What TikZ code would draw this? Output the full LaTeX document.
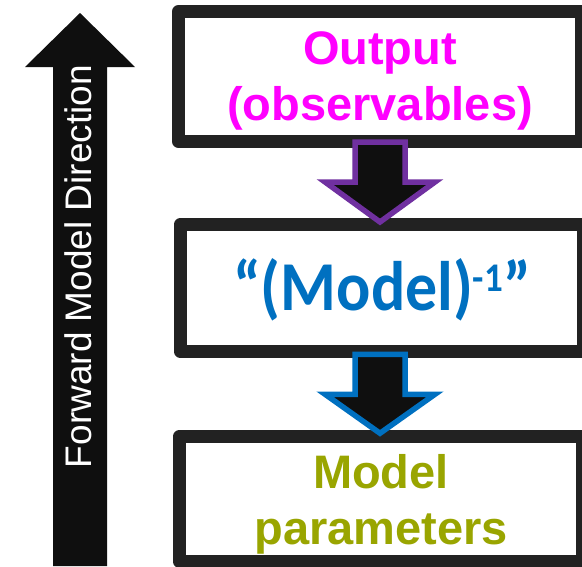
\documentclass[tikz,border=0pt]{standalone}
\usepackage{fontspec}
\usepackage{graphicx}
\setmainfont{Liberation Sans}
\newfontfamily\quotefont{Carlito}[BoldFont={Carlito Bold}]
\usetikzlibrary{calc}
\definecolor{boxgray}{HTML}{222222}
\definecolor{arrowblack}{HTML}{0F0F0F}
\definecolor{outmagenta}{HTML}{FF00FF}
\definecolor{invblue}{HTML}{0070C0}
\definecolor{arrowpurple}{HTML}{7030A0}
\definecolor{paramolive}{HTML}{99A500}
\begin{document}
\begin{tikzpicture}[x=1pt,y=-1pt,
  panel/.style={draw=boxgray, line width=13pt, line join=round, fill=white,
    minimum width=403pt, inner sep=0pt, outer sep=0pt, align=center,
    text depth=0pt, font=\bfseries\fontsize{47}{56}\selectfont},
  blockarrow/.style={fill=arrowblack, line width=5.5pt, line join=miter},
  sidelabel/.style={rotate=90, anchor=base, text=white, inner sep=0pt,
    font=\fontsize{37}{44}\selectfont}
]
\clip (0,0) rectangle (582,566);

% upward arrow on the left with its label
\fill[arrowblack] (53,566) -- (53,67) -- (25,67) -- (80,13) -- (135,67)
  -- (107,67) -- (107,566) -- cycle;
\node[sidelabel] (dir) at (91,266.5) {Forward Model Direction};

% the three stages
\node[panel, minimum height=130pt, text=outmagenta] (out) at (380,76.5)
  {Output\\(observables)};
\node[panel, minimum height=127.5pt, text=invblue, text height=45pt] (inv) at (382,288)
  {\scalebox{1.03}[1.13]{\quotefont\bfseries\fontsize{62}{62}\selectfont
   “(Model)\raisebox{17pt}{\fontsize{36}{36}\selectfont -1}”}};
\node[panel, minimum height=125.5pt, text=paramolive] (par) at (381,499)
  {Model\\parameters};

% block arrows between the stages
\coordinate (a1) at ($(out.south)+(0,0.5)$);
\coordinate (a2) at ($(inv.south)+(-2,2.5)$);
\draw[blockarrow, draw=arrowpurple] (a1) ++(-25,0) -- ++(0,40) -- ++(-30,0)
  -- ++(55,40) -- ++(55,-40) -- ++(-30,0) -- ++(0,-40) -- cycle;
\draw[blockarrow, draw=invblue] (a2) ++(-25,0) -- ++(0,40) -- ++(-30,0)
  -- ++(55,39) -- ++(55,-39) -- ++(-30,0) -- ++(0,-40) -- cycle;
\end{tikzpicture}
\end{document}
